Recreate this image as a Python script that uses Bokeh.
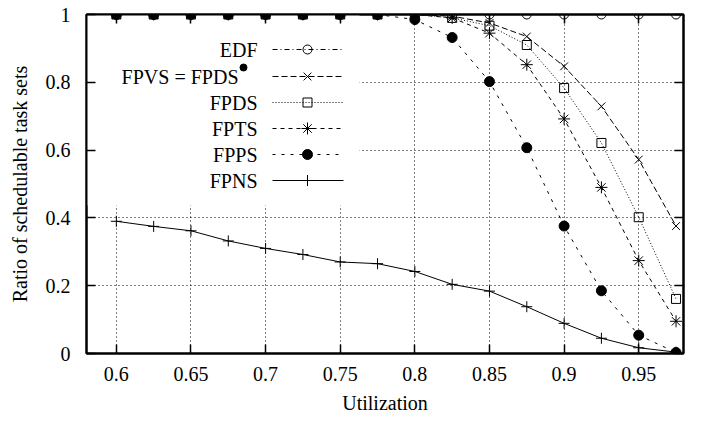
from bokeh.plotting import figure
from bokeh.models import FixedTicker, LinearAxis, Range1d
from bokeh.core.properties import value
from bokeh.embed import file_html
from bokeh.resources import INLINE

# ---- data ----
utilization = [0.6, 0.625, 0.65, 0.675, 0.7, 0.725, 0.75, 0.775,
               0.8, 0.825, 0.85, 0.875, 0.9, 0.925, 0.95, 0.975]
edf  = [1.0] * 16
fpvs = [1.0, 1.0, 1.0, 1.0, 1.0, 1.0, 1.0, 1.0,
        1.0, 0.995, 0.975, 0.935, 0.847, 0.729, 0.572, 0.376]
fpds = [1.0, 1.0, 1.0, 1.0, 1.0, 1.0, 1.0, 1.0,
        1.0, 0.99, 0.967, 0.91, 0.783, 0.621, 0.402, 0.161]
fpts = [1.0, 1.0, 1.0, 1.0, 1.0, 1.0, 1.0, 1.0,
        1.0, 0.99, 0.945, 0.852, 0.692, 0.49, 0.274, 0.095]
fpps = [1.0, 1.0, 1.0, 1.0, 1.0, 1.0, 1.0, 1.0,
        0.985, 0.932, 0.802, 0.607, 0.376, 0.185, 0.054, 0.003]
fpns = [0.39, 0.375, 0.362, 0.332, 0.31, 0.292, 0.27, 0.265,
        0.242, 0.204, 0.184, 0.138, 0.089, 0.045, 0.017, 0.004]

series_names = ["EDF", "FPVS = FPDS", "FPDS", "FPTS", "FPPS", "FPNS"]
series_vals = [edf, fpvs, fpds, fpts, fpps, fpns]

x_ticks = [0.6, 0.65, 0.7, 0.75, 0.8, 0.85, 0.9, 0.95]
x_tick_labels = ["0.6", "0.65", "0.7", "0.75", "0.8", "0.85", "0.9", "0.95"]
y_ticks = [0, 0.2, 0.4, 0.6, 0.8, 1]
y_tick_labels = ["0", "0.2", "0.4", "0.6", "0.8", "1"]

# ---- styles ----
FONT = "Liberation Serif"
FS = "20px"
styles = [
    dict(dash="5 3 1 3", marker="circle", size=9, fill=None),
    dict(dash="6 3", marker="x", size=11, fill=None),
    dict(dash="1 2", marker="square", size=9, fill=None),
    dict(dash="4 4", marker="asterisk", size=12, fill=None),
    dict(dash="3 6", marker="circle", size=10, fill="black"),
    dict(dash="solid", marker="cross", size=11, fill=None),
]

X0, X1 = 0.58, 0.98
p = figure(width=702, height=422, x_range=Range1d(X0, X1), y_range=Range1d(0, 1),
           output_backend="svg", toolbar_location=None,
           min_border_left=86, min_border_right=19, min_border_top=14, min_border_bottom=69)
p.background_fill_color = "white"
p.border_fill_color = "white"
p.outline_line_color = "black"
p.outline_line_width = 2

# frame geometry (px) for legend placement
FRAME_W, FRAME_H = 597.0, 339.0
def dx(px):
    return X0 + px / FRAME_W * (X1 - X0)
def dy(py):
    return 1.0 - py / FRAME_H

for ax in (p.xaxis[0], p.yaxis[0]):
    ax.axis_line_color = "black"
    ax.axis_line_width = 2
    ax.major_tick_in = 9
    ax.major_tick_out = 0
    ax.major_tick_line_width = 1.5
    ax.minor_tick_line_color = None
    ax.major_label_text_font = FONT
    ax.major_label_text_font_size = FS
    ax.major_label_text_color = "black"
    ax.axis_label_text_font = FONT
    ax.axis_label_text_font_size = FS
    ax.axis_label_text_font_style = "normal"
    ax.axis_label_text_color = "black"

p.xaxis.ticker = FixedTicker(ticks=x_ticks)
p.xaxis.major_label_overrides = dict(zip(x_ticks, x_tick_labels))
p.xaxis.axis_label = "Utilization"
p.xaxis.major_label_standoff = 13
p.xaxis.axis_label_standoff = 8

p.yaxis.ticker = FixedTicker(ticks=y_ticks)
p.yaxis.major_label_overrides = dict(zip(y_ticks, y_tick_labels))
p.yaxis.axis_label = "Ratio of schedulable task sets"
p.yaxis.major_label_standoff = 16
p.yaxis.axis_label_standoff = 12

# mirrored ticks (no labels)
top = LinearAxis(ticker=FixedTicker(ticks=x_ticks))
right = LinearAxis(ticker=FixedTicker(ticks=y_ticks))
top.major_label_overrides = {t: "" for t in x_ticks}
right.major_label_overrides = {t: "" for t in y_ticks}
for ax in (top, right):
    ax.axis_line_color = "black"
    ax.axis_line_width = 2
    ax.major_tick_in = 9
    ax.major_tick_out = 0
    ax.major_tick_line_width = 1.5
    ax.minor_tick_line_color = None
    ax.major_label_text_color = None
    ax.major_label_text_font_size = "1px"
    ax.major_label_standoff = 0
p.add_layout(top, "above")
p.add_layout(right, "right")

p.xgrid.ticker = FixedTicker(ticks=x_ticks)
p.ygrid.ticker = FixedTicker(ticks=y_ticks)
for g in (p.xgrid[0], p.ygrid[0]):
    g.grid_line_color = "black"
    g.grid_line_alpha = 1.0
    g.grid_line_width = 1
    g.grid_line_dash = "1 3"

# legend background box (hides grid behind key)
p.quad(left=X0, right=dx(273), bottom=dy(191), top=1.0,
       fill_color="white", line_color=None)

# series
for vals, st in zip(series_vals, styles):
    p.line(utilization, vals, line_color="black", line_width=1, line_dash=st["dash"])
    p.scatter(utilization, vals, marker=st["marker"], size=st["size"],
              line_color="black", line_width=1,
              fill_color=st["fill"] if st["fill"] else None)

# legend (labels to the left of samples)
row_py = [35, 62, 88, 114, 140, 166]
lab_px = [171, 152, 171, 171, 171, 171]
seg_x0, seg_x1, mk_x = dx(186), dx(257), dx(221)
for name, st, py, lx in zip(series_names, styles, row_py, lab_px):
    y = dy(py)
    p.text(x=[dx(lx)], y=[y], text=[name], text_align="right", text_baseline="middle",
           text_font=value(FONT), text_font_size=FS, text_color="black")
    p.line([seg_x0, seg_x1], [y, y], line_color="black", line_width=1, line_dash=st["dash"])
    p.scatter([mk_x], [y], marker=st["marker"], size=st["size"], line_color="black",
              line_width=1, fill_color=st["fill"] if st["fill"] else None)
# superscript bullet after "FPVS = FPDS"
p.scatter([dx(157)], [dy(row_py[1] - 9)], marker="circle", size=7,
          line_color="black", fill_color="black")

open("out.html", "w").write(file_html(p, INLINE))
